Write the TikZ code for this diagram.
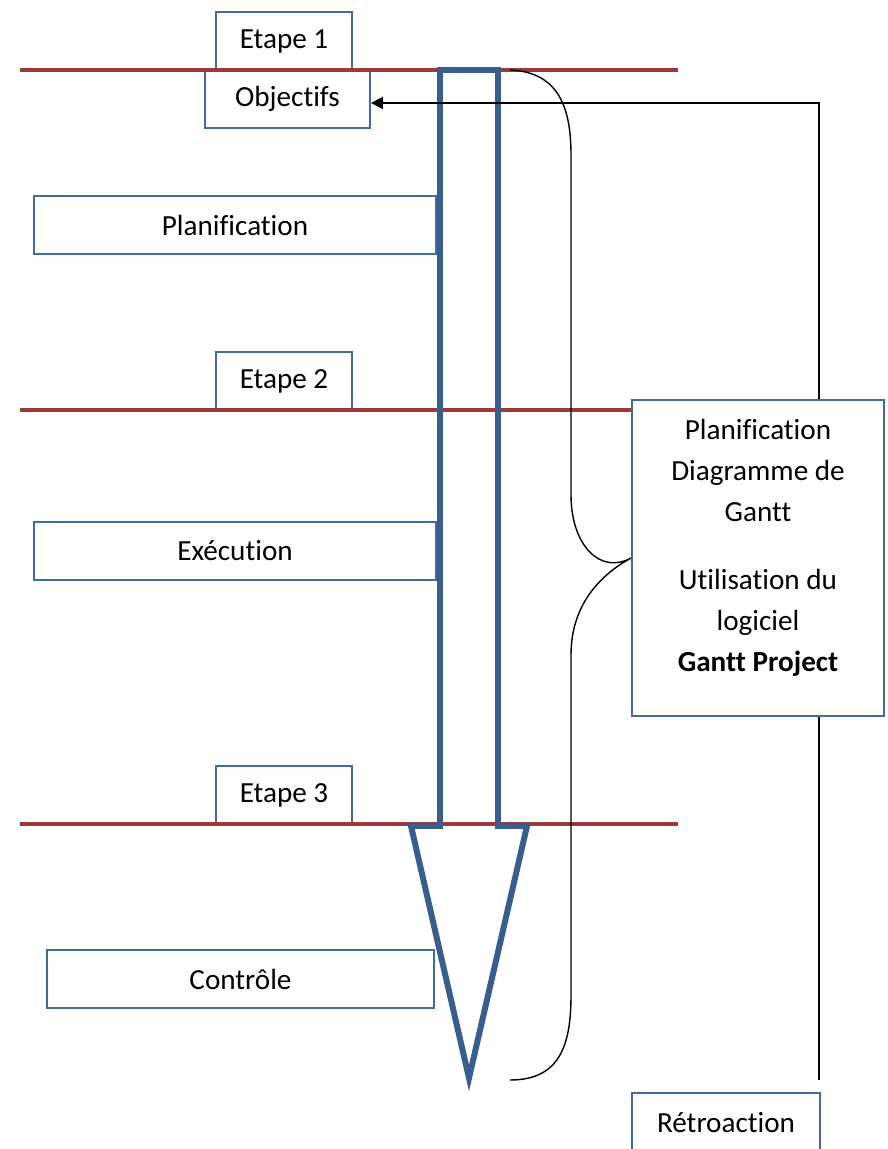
\documentclass[tikz,border=0pt]{standalone}
\usepackage{fontspec}
\setmainfont{Carlito}[Ligatures={NoCommon}]
\usetikzlibrary{arrows.meta}
\definecolor{bordeaux}{RGB}{155,58,56}
\definecolor{bleufleche}{RGB}{56,94,141}
\definecolor{bleucadre}{RGB}{66,108,160}
\tikzset{
  every node/.style={font=\fontsize{16.6}{23.3}\selectfont},
  cadre/.style={draw=bleucadre, line width=1.1pt, fill=white, inner sep=0pt, minimum height=1.16cm},
  jalon/.style={draw=bordeaux, line width=2pt},
  fleche/.style={draw=bleufleche, line width=3.4pt},
  accolade/.style={line width=0.8pt},
  retour/.style={line width=1pt},
}
\begin{document}
\begin{tikzpicture}[x=0.02cm, y=-0.02cm]
                        \useasboundingbox (0,0) rectangle (888,1149);
                        \clip (0,0) rectangle (888,1149);

                        \node (etape1) [cadre, minimum width=2.72cm] at (284,41) {Etape 1};
                        \node (objectifs) [cadre, minimum width=3.3cm] at (287.5,99) {Objectifs};
                        \node (planif) [cadre, minimum width=8.04cm] at (235,225) {Planification};
                        \node (etape2) [cadre, minimum width=2.72cm] at (284,381) {Etape 2};
                        \node (execution) [cadre, minimum width=8.04cm] at (235,551) {Exécution};
                        \node (etape3) [cadre, minimum width=2.72cm] at (284,795) {Etape 3};
                        \node (controle) [cadre, minimum width=7.74cm] at (240.5,979) {Contrôle};
                        \node (gantt) [cadre, minimum width=5.04cm, minimum height=6.32cm] at (758,558) {};
                        \node (gantttexte) [align=center, anchor=north, inner sep=0pt] at (758,419)
                          {Planification\\Diagramme de\\Gantt\\[0.54cm]Utilisation du\\logiciel\\\textbf{Gantt Project}};
                        \node (retro) [cadre, minimum width=3.76cm, minimum height=1.2cm] at (726,1123) {Rétroaction};

                        % Lignes des étapes.
                        \draw [jalon] (20,70) -- (678,70);
                        \draw [jalon] (20,410) -- (gantt.west |- 0,410);
                        \draw [jalon] (20,824) -- (678,824);

                        % Grande flèche bleue.
                        \draw [fleche] (440,70) -- (440,826) -- (411,826) -- (469,1078)
                          -- (527,826) -- (498,826) -- (498,70) -- cycle;

                        \draw [accolade] (510,70) .. controls (560,72) and (571,110) .. (571,155)
                          -- (571,495) .. controls (571,545) and (600,575) .. (gantt.west)
                          .. controls (600,575) and (571,605) .. (571,655)
                          -- (571,995) .. controls (571,1045) and (560,1080) .. (510,1080);

                        % Rétroaction vers les objectifs.
                        \coordinate (depart) at (819,1080);
                        \draw [retour] (depart) -- (depart |- gantt.south);
                        \draw [retour, -{Triangle[length=0.24cm, width=0.24cm]}] (depart |- gantt.north) |- ([yshift=-0.08cm]objectifs.east);

                    \end{tikzpicture}
\end{document}
